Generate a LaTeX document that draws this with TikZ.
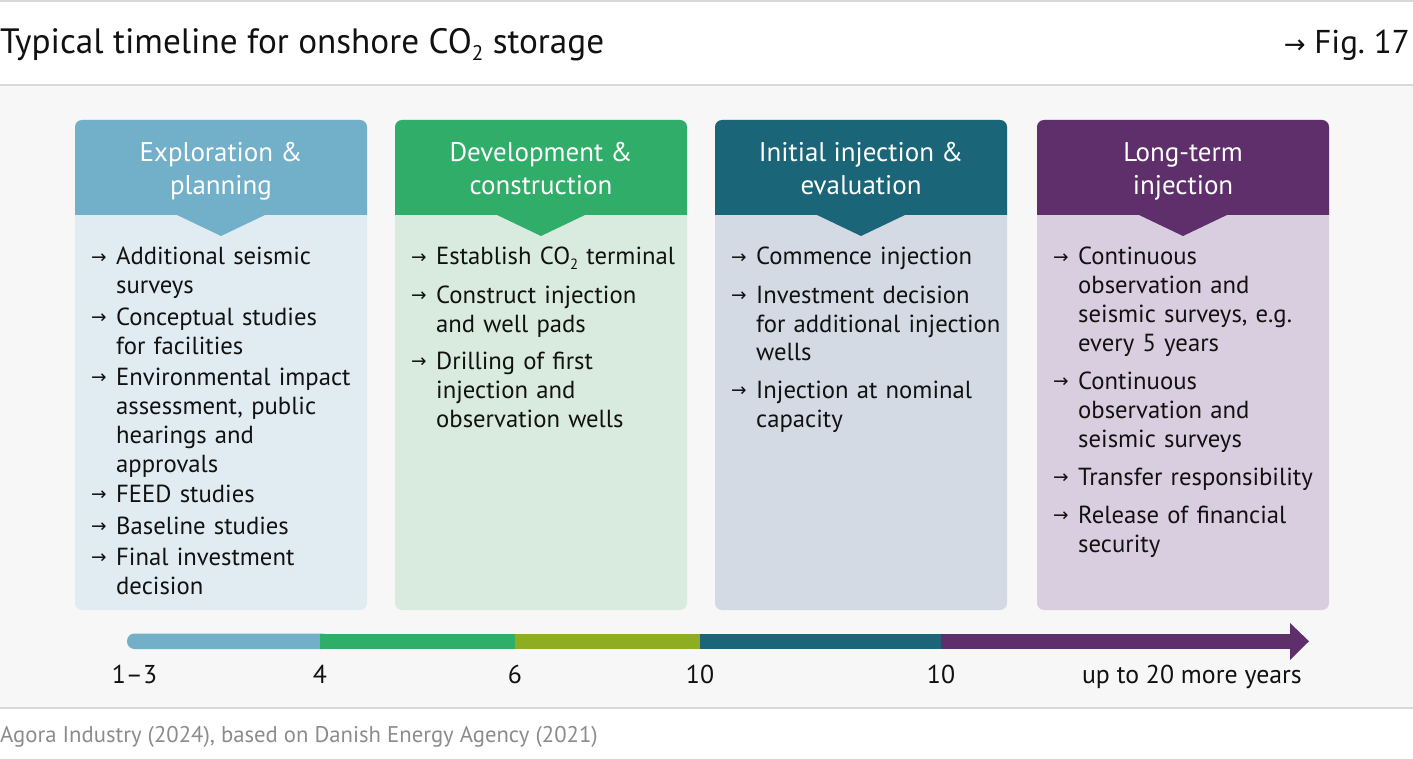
\documentclass[tikz,border=0pt]{standalone}
\usepackage{fontspec}
\setmainfont{PT Sans}
\newfontfamily\arrowfont{DejaVu Sans}
\definecolor{c1h}{HTML}{72AFC9}
\definecolor{c1b}{HTML}{E1ECF2}
\definecolor{c2h}{HTML}{30AD68}
\definecolor{c2b}{HTML}{D9EBDE}
\definecolor{c3h}{HTML}{1B6578}
\definecolor{c3b}{HTML}{D3DAE3}
\definecolor{c4h}{HTML}{5E2F6B}
\definecolor{c4b}{HTML}{D9CEE0}
\definecolor{olive}{HTML}{8FAD22}
\definecolor{bgray}{HTML}{F7F7F7}
\definecolor{lgray}{HTML}{D9D9D9}
\definecolor{fgray}{HTML}{8C8C8C}
\definecolor{ink}{HTML}{111111}
\newcommand\subtwo{\raisebox{-0.18em}{\fontsize{0.6em}{1em}\selectfont 2}}
\newcommand\bitem[4]{%
  \node[arr] (#1a) at (#2-1,#3-1.5) {→};
  \node[itemtext] (#1) at (#2+24,#3) {#4};}
\begin{document}
\begin{tikzpicture}[x=1pt,y=-1pt,
  cardbox/.style={rectangle, rounded corners=7, minimum width=292, minimum height=490, inner sep=0, draw=none},
  headtext/.style={anchor=base, inner sep=0, text=white, font=\fontsize{27}{30}\selectfont},
  arr/.style={anchor=base west, inner sep=0, text=ink, font=\arrowfont\fontsize{18.5}{20}\selectfont},
  itemtext/.style={anchor=base west, inner sep=0, text=ink, text width=280, align=left, font=\fontsize{24.7}{29}\selectfont},
  tlabel/.style={anchor=base, inner sep=0, text=ink, font=\fontsize{25.8}{29}\selectfont}]
\useasboundingbox (0,0) rectangle (1413,759);
\fill[white] (0,0) rectangle (1413,759);
\fill[bgray] (0,85) rectangle (1413,708);
\draw[lgray, line width=2] (0,1) -- (1413,1);
\draw[lgray, line width=1.5] (0,85) -- (1413,85);
\draw[lgray, line width=1.5] (0,708) -- (1413,708);
% title
\node[anchor=base west, inner sep=0, text=ink, font=\fontsize{35.2}{38}\selectfont] (title) at (0,54) {Typical timeline for onshore CO\subtwo{} storage};
\node[anchor=base east, inner sep=0, text=ink, font=\fontsize{33}{38}\selectfont] (fig) at (1410,54) {{\arrowfont\fontsize{26}{30}\selectfont →} Fig.~17};
% cards
\foreach \x/\hc/\bc/\ta/\tb/\n in {75/c1h/c1b/Exploration \&/planning/A, 395/c2h/c2b/Development \&/construction/B, 715/c3h/c3b/Initial injection \&/evaluation/C, 1037/c4h/c4b/Long-term/injection/D}{
  \node[cardbox, fill=\bc] (card\n) at (\x+146,365) {};
  \fill[\hc] (\x,215) [rounded corners=7]-- (\x,120) -- (\x+292,120) [sharp corners]-- (\x+292,215) -- cycle;
  \fill[\hc] (\x+100,214) -- (\x+146,236) -- (\x+192,214) -- cycle;
  \node[headtext] (hd\n1) at (\x+146,162) {\ta};
  \node[headtext] (hd\n2) at (\x+146,195) {\tb};
}
% card 1
\bitem{a1}{92}{265}{Additional seismic\\surveys}
\bitem{a2}{92}{325}{Conceptual studies\\for facilities}
\bitem{a3}{92}{385}{Environmental impact\\assessment, public\\hearings and\\approvals}
\bitem{a4}{92}{502}{FEED studies}
\bitem{a5}{92}{534}{Baseline studies}
\bitem{a6}{92}{565}{Final investment\\decision}
% card 2
\bitem{b1}{412}{265}{Establish CO\subtwo{} terminal}
\bitem{b2}{412}{303}{Construct injection\\and well pads}
\bitem{b3}{412}{369}{Drilling of first\\injection and\\observation wells}
% card 3
\bitem{c1}{732}{265}{Commence injection}
\bitem{c2}{732}{303}{Investment decision\\for additional injection\\wells}
\bitem{c3}{732}{398}{Injection at nominal\\capacity}
% card 4
\bitem{d1}{1054}{265}{Continuous\\observation and\\seismic surveys, e.g.\\every 5 years}
\bitem{d2}{1054}{389}{Continuous\\observation and\\seismic surveys}
\bitem{d3}{1054}{485}{Transfer responsibility}
\bitem{d4}{1054}{523}{Release of financial\\security}
% timeline
\fill[c1h, rounded corners=7.5] (127,633.5) rectangle (330,649);
\fill[c2h] (320,633.5) rectangle (515,649);
\fill[olive] (515,633.5) rectangle (700,649);
\fill[c3h] (700,633.5) rectangle (941,649);
\fill[c4h] (941,633.5) rectangle (1291,649);
\fill[c4h] (1290,623) -- (1309,641.25) -- (1290,660) -- cycle;
\node[tlabel] (l0) at (134.5,683) {1–3};
\node[tlabel] (l1) at (320,683) {4};
\node[tlabel] (l2) at (515,683) {6};
\node[tlabel] (l3) at (700,683) {10};
\node[tlabel] (l4) at (941,683) {10};
\node[tlabel, anchor=base east] (l5) at (1302,683) {up to 20 more years};
% source
\node[anchor=base west, inner sep=0, text=fgray, font=\fontsize{22.7}{26}\selectfont] (src) at (0,742) {Agora Industry (2024), based on Danish Energy Agency (2021)};
\end{tikzpicture}
\end{document}
